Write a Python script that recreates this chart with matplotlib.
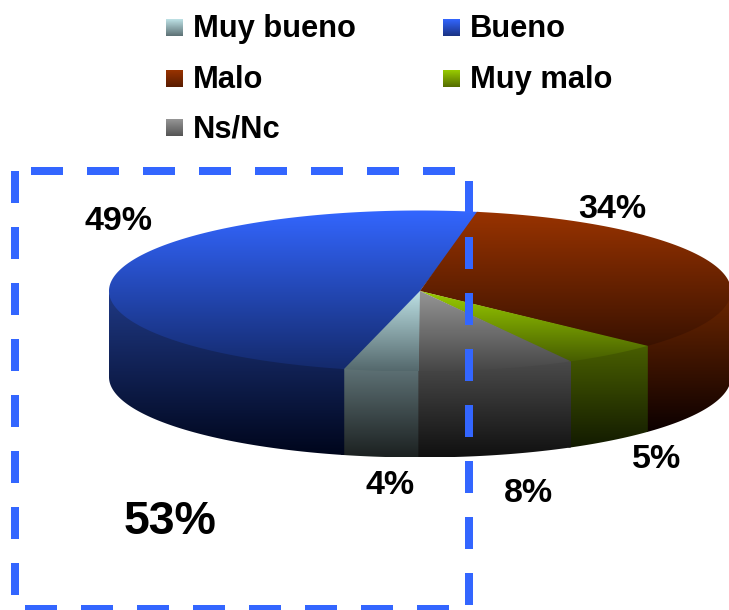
import numpy as np
import matplotlib
matplotlib.use("Agg")
import matplotlib.pyplot as plt
from matplotlib.patches import Polygon
from matplotlib.colors import LinearSegmentedColormap as LSC

categories = ["Muy bueno", "Bueno", "Malo", "Muy malo", "Ns/Nc"]
values = [4, 49, 34, 5, 8]
top_colors = [((190, 226, 230), (84, 104, 108)), ((51, 102, 255), (20, 42, 108)),
              ((153, 51, 0), (58, 18, 0)), ((153, 204, 0), (70, 92, 0)),
              ((150, 150, 150), (70, 70, 70))]
side_colors = [((96, 116, 120), (28, 33, 33)), ((32, 58, 135), (0, 6, 28)),
               ((112, 40, 0), (12, 0, 0)), ((74, 96, 0), (18, 26, 0)),
               ((76, 76, 76), (16, 16, 16))]
swatch_colors = [((190, 226, 230), (92, 112, 116)), ((51, 102, 255), (26, 50, 130)),
                 ((153, 51, 0), (88, 28, 0)), ((153, 204, 0), (84, 108, 0)),
                 ((150, 150, 150), (84, 84, 84))]
label_xy = [(390, 486), (119, 221), (612, 210), (657, 460), (528, 493)]
legend_xy = [(166, 19), (443, 19), (166, 70), (443, 70), (166, 119)]
legend_base = [37, 37, 88, 88, 137]
summary_label = sum(values[:2])

CX, CY, RX, RY, DEPTH = 420, 291, 311, 80.5, 86
FONT = "Liberation Sans"
BOX = "#3366FF"

fig = plt.figure(figsize=(7.29, 6.10), dpi=100)
ax = fig.add_axes([0, 0, 1, 1])


def norm(c):
    return tuple(v / 255 for v in c)


def gradient(pts, c0, c1, z):
    pts = np.asarray(pts)
    x0, x1 = pts[:, 0].min(), pts[:, 0].max()
    y0, y1 = pts[:, 1].min(), pts[:, 1].max()
    cmap = LSC.from_list("g", [norm(c0), norm(c1)])
    im = ax.imshow(np.linspace(0, 1, 256)[:, None], cmap=cmap, aspect="auto",
                   extent=[x0, x1, y1, y0], zorder=z, interpolation="bilinear")
    patch = Polygon(pts, closed=True, transform=ax.transData, fc="none", ec="none")
    ax.add_patch(patch)
    im.set_clip_path(patch)


def arc(a, b):
    t = np.radians(np.linspace(a, b, max(int(abs(b - a) * 2), 2)))
    return np.column_stack([CX - RX * np.sin(t), CY + RY * np.cos(t)])


edges = np.concatenate([[0], np.cumsum(values)]) * 3.6
n = len(values)
# walls and faces overlap slightly, nearest slices last, so no light seams show
for i in range(n):
    a, b = edges[i], edges[i + 1]
    for lo, hi in [(a, min(b, 90)), (max(a, 270), b)]:
        if hi > lo:
            rim = arc(lo - 0.3, hi + 0.3)
            wall = np.vstack([rim - [0, 2.5], rim[::-1] + [0, DEPTH]])
            gradient(wall, *side_colors[i], 2 + 0.01 * i)
    face = np.vstack([[CX, CY], arc(a - 0.25, b + 0.25)])
    gradient(face, *top_colors[i], 3 + 0.01 * i)

# dashed selection frame
dash = dict(color=BOX, lw=5.76, dashes=(32 / 8, 24 / 8), dash_capstyle="butt", zorder=6)
ax.plot([15, 15], [171, 605], **dash)
ax.plot([31, 469], [171, 171], **dash)
ax.plot([469, 469], [181, 605], **dash)
ax.plot([25, 449], [609, 609], **dash)

for i, name in enumerate(categories):
    x, y = legend_xy[i]
    sq = [(x, y), (x + 17, y), (x + 17, y + 17), (x, y + 17)]
    gradient(sq, *swatch_colors[i], 4)
    ax.text(x + 27, legend_base[i], name, family=FONT, weight="bold", fontsize=22.2,
            va="baseline", ha="left", color="black", zorder=7)
    ax.text(*label_xy[i], f"{values[i]}%", family=FONT, weight="bold", fontsize=24.5,
            va="center", ha="center", color="black", zorder=7)

ax.text(170, 522, f"{summary_label}%", family=FONT, weight="bold", fontsize=33.5,
        va="center", ha="center", color="black", zorder=7)

ax.set_xlim(0, 729)
ax.set_ylim(610, 0)
ax.axis("off")
fig.savefig("out.png", dpi=100, facecolor="white")
